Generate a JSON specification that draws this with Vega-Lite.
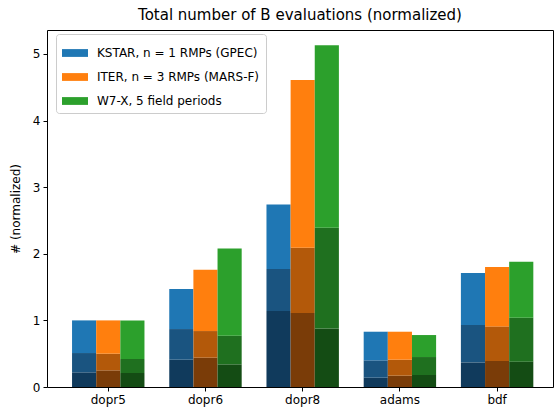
{
  "$schema": "https://vega.github.io/schema/vega-lite/v6.json",
  "autosize": "none",
  "width": 506,
  "height": 357,
  "padding": {"left": 47, "top": 30, "right": 2, "bottom": 22},
  "title": {
    "text": "Total number of B evaluations (normalized)",
    "font": "DejaVu Sans",
    "fontSize": 15,
    "fontWeight": "normal",
    "color": "#000",
    "anchor": "middle",
    "offset": 7
  },
  "config": {
    "font": "DejaVu Sans",
    "view": {"stroke": "#000", "strokeWidth": 1},
    "axis": {"grid": false, "domainColor": "#000", "tickColor": "#000", "labelColor": "#000", "titleColor": "#000", "labelFont": "DejaVu Sans", "titleFont": "DejaVu Sans"}
  },
  "data": {
    "values": [
      {"cat": "dopr5", "machine": "KSTAR", "series": "KSTAR bottom", "lo": 0, "hi": 0.22},
      {"cat": "dopr5", "machine": "KSTAR", "series": "KSTAR middle", "lo": 0.22, "hi": 0.51},
      {"cat": "dopr5", "machine": "KSTAR", "series": "KSTAR, n = 1 RMPs (GPEC)", "lo": 0.51, "hi": 1.0},
      {"cat": "dopr5", "machine": "ITER", "series": "ITER bottom", "lo": 0, "hi": 0.25},
      {"cat": "dopr5", "machine": "ITER", "series": "ITER middle", "lo": 0.25, "hi": 0.5},
      {"cat": "dopr5", "machine": "ITER", "series": "ITER, n = 3 RMPs (MARS-F)", "lo": 0.5, "hi": 1.0},
      {"cat": "dopr5", "machine": "W7-X", "series": "W7-X bottom", "lo": 0, "hi": 0.21},
      {"cat": "dopr5", "machine": "W7-X", "series": "W7-X middle", "lo": 0.21, "hi": 0.42},
      {"cat": "dopr5", "machine": "W7-X", "series": "W7-X, 5 field periods", "lo": 0.42, "hi": 1.0},

      {"cat": "dopr6", "machine": "KSTAR", "series": "KSTAR bottom", "lo": 0, "hi": 0.41},
      {"cat": "dopr6", "machine": "KSTAR", "series": "KSTAR middle", "lo": 0.41, "hi": 0.87},
      {"cat": "dopr6", "machine": "KSTAR", "series": "KSTAR, n = 1 RMPs (GPEC)", "lo": 0.87, "hi": 1.47},
      {"cat": "dopr6", "machine": "ITER", "series": "ITER bottom", "lo": 0, "hi": 0.44},
      {"cat": "dopr6", "machine": "ITER", "series": "ITER middle", "lo": 0.44, "hi": 0.84},
      {"cat": "dopr6", "machine": "ITER", "series": "ITER, n = 3 RMPs (MARS-F)", "lo": 0.84, "hi": 1.76},
      {"cat": "dopr6", "machine": "W7-X", "series": "W7-X bottom", "lo": 0, "hi": 0.34},
      {"cat": "dopr6", "machine": "W7-X", "series": "W7-X middle", "lo": 0.34, "hi": 0.77},
      {"cat": "dopr6", "machine": "W7-X", "series": "W7-X, 5 field periods", "lo": 0.77, "hi": 2.08},

      {"cat": "dopr8", "machine": "KSTAR", "series": "KSTAR bottom", "lo": 0, "hi": 1.14},
      {"cat": "dopr8", "machine": "KSTAR", "series": "KSTAR middle", "lo": 1.14, "hi": 1.77},
      {"cat": "dopr8", "machine": "KSTAR", "series": "KSTAR, n = 1 RMPs (GPEC)", "lo": 1.77, "hi": 2.74},
      {"cat": "dopr8", "machine": "ITER", "series": "ITER bottom", "lo": 0, "hi": 1.11},
      {"cat": "dopr8", "machine": "ITER", "series": "ITER middle", "lo": 1.11, "hi": 2.09},
      {"cat": "dopr8", "machine": "ITER", "series": "ITER, n = 3 RMPs (MARS-F)", "lo": 2.09, "hi": 4.61},
      {"cat": "dopr8", "machine": "W7-X", "series": "W7-X bottom", "lo": 0, "hi": 0.88},
      {"cat": "dopr8", "machine": "W7-X", "series": "W7-X middle", "lo": 0.88, "hi": 2.39},
      {"cat": "dopr8", "machine": "W7-X", "series": "W7-X, 5 field periods", "lo": 2.39, "hi": 5.13},

      {"cat": "adams", "machine": "KSTAR", "series": "KSTAR bottom", "lo": 0, "hi": 0.14},
      {"cat": "adams", "machine": "KSTAR", "series": "KSTAR middle", "lo": 0.14, "hi": 0.40},
      {"cat": "adams", "machine": "KSTAR", "series": "KSTAR, n = 1 RMPs (GPEC)", "lo": 0.40, "hi": 0.83},
      {"cat": "adams", "machine": "ITER", "series": "ITER bottom", "lo": 0, "hi": 0.17},
      {"cat": "adams", "machine": "ITER", "series": "ITER middle", "lo": 0.17, "hi": 0.41},
      {"cat": "adams", "machine": "ITER", "series": "ITER, n = 3 RMPs (MARS-F)", "lo": 0.41, "hi": 0.83},
      {"cat": "adams", "machine": "W7-X", "series": "W7-X bottom", "lo": 0, "hi": 0.18},
      {"cat": "adams", "machine": "W7-X", "series": "W7-X middle", "lo": 0.18, "hi": 0.45},
      {"cat": "adams", "machine": "W7-X", "series": "W7-X, 5 field periods", "lo": 0.45, "hi": 0.78},

      {"cat": "bdf", "machine": "KSTAR", "series": "KSTAR bottom", "lo": 0, "hi": 0.37},
      {"cat": "bdf", "machine": "KSTAR", "series": "KSTAR middle", "lo": 0.37, "hi": 0.93},
      {"cat": "bdf", "machine": "KSTAR", "series": "KSTAR, n = 1 RMPs (GPEC)", "lo": 0.93, "hi": 1.71},
      {"cat": "bdf", "machine": "ITER", "series": "ITER bottom", "lo": 0, "hi": 0.39},
      {"cat": "bdf", "machine": "ITER", "series": "ITER middle", "lo": 0.39, "hi": 0.91},
      {"cat": "bdf", "machine": "ITER", "series": "ITER, n = 3 RMPs (MARS-F)", "lo": 0.91, "hi": 1.80},
      {"cat": "bdf", "machine": "W7-X", "series": "W7-X bottom", "lo": 0, "hi": 0.38},
      {"cat": "bdf", "machine": "W7-X", "series": "W7-X middle", "lo": 0.38, "hi": 1.04},
      {"cat": "bdf", "machine": "W7-X", "series": "W7-X, 5 field periods", "lo": 1.04, "hi": 1.88}
    ]
  },
  "mark": {"type": "bar", "strokeWidth": 0},
  "encoding": {
    "x": {
      "field": "cat",
      "type": "nominal",
      "sort": ["dopr5", "dopr6", "dopr8", "adams", "bdf"],
      "scale": {"paddingInner": 0.255, "paddingOuter": 0.23, "align": 0.56},
      "axis": {"title": null, "labelAngle": 0, "labelFontSize": 12, "tickSize": 4, "labelPadding": 3, "domain": false}
    },
    "xOffset": {
      "field": "machine",
      "type": "nominal",
      "sort": ["KSTAR", "ITER", "W7-X"],
      "scale": {"paddingInner": 0, "paddingOuter": 0}
    },
    "y": {
      "field": "hi",
      "type": "quantitative",
      "scale": {"domain": [0, 5.36], "nice": false, "zero": true},
      "axis": {"title": "# (normalized)", "values": [0, 1, 2, 3, 4, 5], "labelFontSize": 12, "titleFontSize": 12, "titleFontWeight": "normal", "tickSize": 4, "labelPadding": 3, "titlePadding": 10, "domain": false}
    },
    "y2": {"field": "lo"},
    "color": {
      "field": "series",
      "type": "nominal",
      "scale": {
        "domain": [
          "KSTAR, n = 1 RMPs (GPEC)", "ITER, n = 3 RMPs (MARS-F)", "W7-X, 5 field periods",
          "KSTAR middle", "ITER middle", "W7-X middle",
          "KSTAR bottom", "ITER bottom", "W7-X bottom"
        ],
        "range": [
          "#1f77b4", "#ff7f0e", "#2ca02c",
          "#1a5480", "#b3590a", "#1f701f",
          "#103a5c", "#7a3c08", "#144c14"
        ]
      },
      "legend": {
        "title": null,
        "values": ["KSTAR, n = 1 RMPs (GPEC)", "ITER, n = 3 RMPs (MARS-F)", "W7-X, 5 field periods"],
        "orient": "none",
        "legendX": 9,
        "legendY": 4,
        "direction": "vertical",
        "symbolType": "M-1,-0.3H1V0.3H-1Z",
        "symbolSize": 676,
        "symbolStrokeWidth": 0,
        "labelFontSize": 12,
        "labelColor": "#000",
        "labelOffset": 9,
        "rowPadding": 5,
        "padding": 6,
        "strokeColor": "#cccccc",
        "fillColor": "#ffffff",
        "cornerRadius": 3,
        "labelLimit": 300
      }
    }
  }
}
